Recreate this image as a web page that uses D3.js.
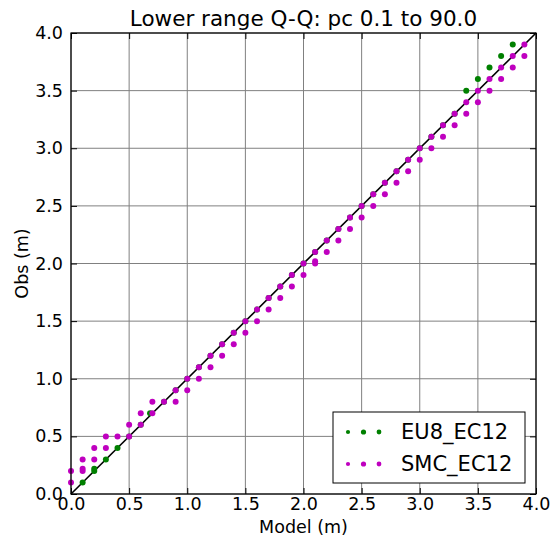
<!DOCTYPE html>
<html>
<head>
<meta charset="utf-8">
<script src="https://cdn.jsdelivr.net/npm/d3@7"></script>
<style>
  body { margin: 0; background: #fff; }
  svg { display: block; font-family: "DejaVu Sans", sans-serif; }
</style>
</head>
<body>
<svg id="chart" width="551" height="537"></svg>
<script>
// ---- data ----
const title = "Lower range Q-Q: pc 0.1 to 90.0";
const xLabel = "Model (m)";
const yLabel = "Obs (m)";
const tickValues = [0, 0.5, 1.0, 1.5, 2.0, 2.5, 3.0, 3.5, 4.0];
const seriesNames = ["EU8_EC12", "SMC_EC12"];
const seriesColors = ["#008000", "#bf00bf"];

// EU8_EC12 quantiles (model, obs)
const eu8Model = [0.1, 0.2, 0.2, 0.3, 0.4, 0.5, 0.6, 0.68, 0.8, 0.9, 1.0, 1.1, 1.2, 1.3, 1.4, 1.5, 1.6, 1.7, 1.8, 1.9, 2.0, 2.1, 2.2, 2.3, 2.4, 2.5, 2.6, 2.7, 2.8, 2.9, 3.0, 3.1, 3.2, 3.3, 3.4, 3.5, 3.6, 3.7, 3.8];
const eu8Obs   = [0.1, 0.2, 0.22, 0.3, 0.4, 0.5, 0.6, 0.7, 0.8, 0.9, 1.0, 1.1, 1.2, 1.3, 1.4, 1.5, 1.6, 1.7, 1.8, 1.9, 2.0, 2.1, 2.2, 2.3, 2.4, 2.5, 2.6, 2.7, 2.8, 2.9, 3.0, 3.1, 3.2, 3.3, 3.5, 3.6, 3.7, 3.8, 3.9];

// SMC_EC12 quantiles (model, obs)
const smcModel = [0.0, 0.0, 0.1, 0.1, 0.1, 0.2, 0.2, 0.3, 0.3, 0.4, 0.5, 0.5, 0.6, 0.6, 0.7, 0.7, 0.8, 0.9, 0.9, 1.0, 1.0, 1.1, 1.1, 1.2, 1.2, 1.3, 1.3, 1.4, 1.4, 1.5, 1.5, 1.6, 1.6, 1.7, 1.7, 1.8, 1.8, 1.9, 1.9, 2.0, 2.0, 2.1, 2.1, 2.1, 2.2, 2.2, 2.3, 2.3, 2.4, 2.4, 2.5, 2.5, 2.6, 2.6, 2.7, 2.7, 2.8, 2.8, 2.9, 2.9, 3.0, 3.0, 3.1, 3.1, 3.2, 3.2, 3.3, 3.3, 3.4, 3.4, 3.5, 3.5, 3.6, 3.6, 3.7, 3.7, 3.8, 3.8, 3.9, 3.9];
const smcObs   = [0.1, 0.2, 0.2, 0.22, 0.3, 0.3, 0.4, 0.4, 0.5, 0.5, 0.5, 0.6, 0.6, 0.7, 0.7, 0.8, 0.8, 0.8, 0.9, 0.9, 1.0, 1.0, 1.1, 1.1, 1.2, 1.2, 1.3, 1.3, 1.4, 1.4, 1.5, 1.5, 1.6, 1.6, 1.7, 1.7, 1.8, 1.8, 1.9, 1.9, 2.0, 2.0, 2.02, 2.1, 2.1, 2.2, 2.2, 2.3, 2.3, 2.4, 2.4, 2.5, 2.5, 2.6, 2.6, 2.7, 2.7, 2.8, 2.8, 2.9, 2.9, 3.0, 3.0, 3.1, 3.1, 3.2, 3.2, 3.3, 3.3, 3.4, 3.4, 3.5, 3.5, 3.6, 3.6, 3.7, 3.7, 3.8, 3.8, 3.9];

// ---- chart ----
const svg = d3.select("#chart");
const m = { left: 71, right: 536, top: 33, bottom: 494 };

const x = d3.scaleLinear().domain([0, 4]).range([m.left, m.right]);
const y = d3.scaleLinear().domain([0, 4]).range([m.bottom, m.top]);
const fmt = d3.format(".1f");

// grid
const grid = svg.append("g");
grid.selectAll("line.gx").data(tickValues).join("line")
  .attr("x1", d => x(d)).attr("x2", d => x(d))
  .attr("y1", m.top).attr("y2", m.bottom)
  .attr("stroke", "#808080").attr("stroke-width", 1);
grid.selectAll("line.gy").data(tickValues).join("line")
  .attr("y1", d => y(d)).attr("y2", d => y(d))
  .attr("x1", m.left).attr("x2", m.right)
  .attr("stroke", "#808080").attr("stroke-width", 1);

// 1:1 line
svg.append("line")
  .attr("x1", x(0)).attr("y1", y(0)).attr("x2", x(4)).attr("y2", y(4))
  .attr("stroke", "#000").attr("stroke-width", 1.6);

// points
const eu8 = eu8Model.map((v, i) => [v, eu8Obs[i]]);
const smc = smcModel.map((v, i) => [v, smcObs[i]]);
svg.append("g").selectAll("circle").data(eu8).join("circle")
  .attr("cx", d => x(d[0])).attr("cy", d => y(d[1])).attr("r", 3)
  .attr("fill", seriesColors[0]);
svg.append("g").selectAll("circle").data(smc).join("circle")
  .attr("cx", d => x(d[0])).attr("cy", d => y(d[1])).attr("r", 3)
  .attr("fill", seriesColors[1]);

// axes (ticks inward, all four sides)
const tickLen = 6;
const axB = d3.axisBottom(x).tickValues(tickValues).tickFormat(fmt).tickSizeInner(-tickLen).tickSizeOuter(0).tickPadding(4);
const axL = d3.axisLeft(y).tickValues(tickValues).tickFormat(fmt).tickSizeInner(-tickLen).tickSizeOuter(0).tickPadding(8);
const axT = d3.axisTop(x).tickValues(tickValues).tickFormat("").tickSizeInner(-tickLen).tickSizeOuter(0);
const axR = d3.axisRight(y).tickValues(tickValues).tickFormat("").tickSizeInner(-tickLen).tickSizeOuter(0);

function styleAxis(g) {
  g.select(".domain").remove();
  g.selectAll(".tick line").attr("stroke", "#000").attr("stroke-width", 1);
  g.selectAll(".tick text").attr("fill", "#000").style("font-size", "17.5px").style("font-family", "DejaVu Sans");
}
svg.append("g").attr("transform", `translate(0,${m.bottom})`).call(axB).call(styleAxis);
svg.append("g").attr("transform", `translate(${m.left},0)`).call(axL).call(styleAxis);
svg.append("g").attr("transform", `translate(0,${m.top})`).call(axT).call(styleAxis);
svg.append("g").attr("transform", `translate(${m.right},0)`).call(axR).call(styleAxis);

// frame
svg.append("rect")
  .attr("x", m.left).attr("y", m.top)
  .attr("width", m.right - m.left).attr("height", m.bottom - m.top)
  .attr("fill", "none").attr("stroke", "#000").attr("stroke-width", 1.2);

// title & labels
svg.append("text").attr("x", (m.left + m.right) / 2).attr("y", 26)
  .attr("text-anchor", "middle").style("font-size", "21.5px").text(title);
svg.append("text").attr("x", (m.left + m.right) / 2).attr("y", 533)
  .attr("text-anchor", "middle").style("font-size", "17.5px").text(xLabel);
svg.append("text").attr("transform", `translate(28,${(m.top + m.bottom) / 2}) rotate(-90)`)
  .attr("text-anchor", "middle").style("font-size", "17.5px").text(yLabel);

// legend
const lg = svg.append("g");
lg.append("rect").attr("x", 333).attr("y", 412).attr("width", 192).attr("height", 71)
  .attr("fill", "#fff").attr("stroke", "#000").attr("stroke-width", 1);
const dotX = [348, 363.5, 379];
const dotR = [2.1, 2.6, 2.4];
seriesNames.forEach((name, i) => {
  const cy = 432 + i * 32;
  dotX.forEach((dx, j) => {
    lg.append("circle").attr("cx", dx).attr("cy", cy).attr("r", dotR[j]).attr("fill", seriesColors[i]);
  });
  lg.append("text").attr("x", 401).attr("y", cy + 7).style("font-size", "21px").text(name);
});
</script>
</body>
</html>
